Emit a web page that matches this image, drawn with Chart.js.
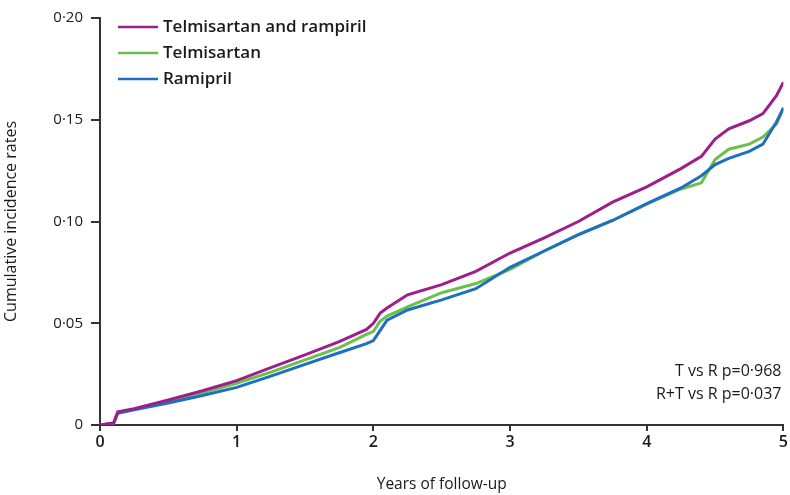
<!DOCTYPE html>
<html>
<head>
<meta charset="utf-8">
<script src="https://cdn.jsdelivr.net/npm/chart.js@4.4.0/dist/chart.umd.min.js"></script>
<style>
  html, body { margin: 0; padding: 0; background: #fff; }
  #wrap { width: 790px; height: 495px; position: relative; }
</style>
</head>
<body>
<div id="wrap"><canvas id="chart"></canvas></div>
<script>
// follow-up time (years) shared by all three curves
const years = [0, 0.1, 0.13, 0.25, 0.5, 0.75, 1.0, 1.25, 1.5, 1.75, 1.95, 2.0, 2.05, 2.1, 2.25, 2.5, 2.75,
  3.0, 3.25, 3.5, 3.75, 4.0, 4.25, 4.4, 4.5, 4.6, 4.75, 4.85, 4.95, 5.0];

const telRam = [0, 0.001, 0.0065, 0.008, 0.0123, 0.0168, 0.0218, 0.0282, 0.0345, 0.041, 0.047, 0.050, 0.055, 0.0575,
  0.064, 0.069, 0.0755, 0.0845, 0.092, 0.100, 0.1095, 0.117, 0.126, 0.132, 0.1405, 0.1455, 0.1495, 0.153, 0.162, 0.1685];
const telmisartan = [0, 0.001, 0.006, 0.0078, 0.0118, 0.0158, 0.0205, 0.026, 0.032, 0.038, 0.0445, 0.046, 0.051, 0.0535,
  0.058, 0.065, 0.0695, 0.0765, 0.0855, 0.0935, 0.1005, 0.1085, 0.116, 0.119, 0.1305, 0.1355, 0.138, 0.1415, 0.148, 0.1558];
const ramipril = [0, 0.0008, 0.0058, 0.0075, 0.0108, 0.0145, 0.0185, 0.024, 0.0298, 0.0355, 0.040, 0.0415, 0.0465, 0.0515,
  0.0565, 0.0615, 0.067, 0.0775, 0.0855, 0.0935, 0.1005, 0.1088, 0.1165, 0.1225, 0.128, 0.131, 0.1345, 0.138, 0.149, 0.1558];

const seriesNames = ['Telmisartan and rampiril', 'Telmisartan', 'Ramipril'];
const seriesColors = ['#9c1f8c', '#6cc04a', '#1f6fc0'];
const xTickLabels = ['0', '1', '2', '3', '4', '5'];
const yTickLabels = ['0', '0·05', '0·10', '0·15', '0·20'];
const pLabels = ['T vs R p=0·968', 'R+T vs R p=0·037'];

const FONT = '"Open Sans", "DejaVu Sans", sans-serif';
const ink = '#333';
const txt = '#1a1a1a';

function pts(vals) { return years.map((x, i) => ({ x, y: vals[i] })); }

// legend + p-values drawn inside the plot area
const overlay = {
  id: 'overlay',
  afterDraw(chart) {
    const ctx = chart.ctx, a = chart.chartArea;
    ctx.save();
    ctx.font = '600 17px ' + FONT;
    ctx.textBaseline = 'middle';
    seriesNames.forEach((name, i) => {
      const y = a.top + 9 + i * 26;
      ctx.strokeStyle = seriesColors[i];
      ctx.lineWidth = 2.5;
      ctx.beginPath(); ctx.moveTo(a.left + 18, y); ctx.lineTo(a.left + 58, y); ctx.stroke();
      ctx.fillStyle = txt;
      ctx.fillText(name, a.left + 63, y);
    });
    ctx.textAlign = 'right';
    ctx.font = '16px ' + FONT;
    pLabels.forEach((t, i) => ctx.fillText(t, a.right - 2, a.bottom - 54 + i * 23));
    ctx.restore();
  }
};

new Chart(document.getElementById('chart'), {
  type: 'line',
  data: {
    datasets: [
      { label: seriesNames[0], data: pts(telRam), borderColor: seriesColors[0], order: 0 },
      { label: seriesNames[1], data: pts(telmisartan), borderColor: seriesColors[1], order: 2 },
      { label: seriesNames[2], data: pts(ramipril), borderColor: seriesColors[2], order: 1 }
    ]
  },
  options: {
    responsive: true,
    maintainAspectRatio: false,
    animation: false,
    layout: { padding: { left: 0, right: 3, top: 18, bottom: 0 } },
    elements: { point: { radius: 0 }, line: { borderWidth: 3, tension: 0 } },
    plugins: { legend: { display: false }, tooltip: { enabled: false } },
    scales: {
      x: {
        type: 'linear', min: 0, max: 5,
        afterFit: s => { s.height = 70; },
        border: { display: true, color: ink, width: 2 },
        grid: { drawOnChartArea: false, drawTicks: true, tickLength: 6, color: ink, lineWidth: 2 },
        ticks: { stepSize: 1, padding: 2, color: txt, font: { family: FONT, size: 16, weight: '600' },
          callback: (v) => xTickLabels[Math.round(v)] },
        title: { display: true, text: 'Years of follow-up', color: txt, font: { family: FONT, size: 15.5 }, padding: { top: 0, bottom: 1 } }
      },
      y: {
        min: 0, max: 0.2,
        afterFit: s => { s.width = 100; },
        border: { display: true, color: ink, width: 2 },
        grid: { drawOnChartArea: false, drawTicks: true, tickLength: 9, color: ink, lineWidth: 2 },
        ticks: { stepSize: 0.05, padding: 8, color: txt, font: { family: FONT, size: 15 },
          callback: (v) => yTickLabels[Math.round(v / 0.05)] },
        title: { display: true, text: 'Cumulative incidence rates', color: txt, font: { family: FONT, size: 16 }, padding: { top: 2, bottom: 0 } }
      }
    }
  },
  plugins: [overlay]
});
</script>
</body>
</html>
